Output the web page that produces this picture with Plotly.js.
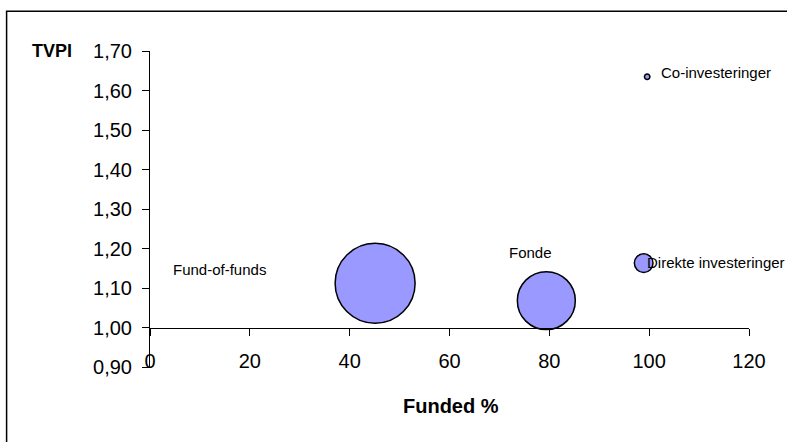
<!DOCTYPE html>
<html>
<head>
<meta charset="utf-8">
<script src="https://cdn.plot.ly/plotly-3.0.1.min.js"></script>
<style>
html,body{margin:0;padding:0;background:#fff;}
#chart{width:787px;height:442px;}
</style>
</head>
<body>
<div id="chart"></div>
<script>
// Data
const categories = ['Fund-of-funds', 'Fonde', 'Direkte investeringer', 'Co-investeringer'];
const fundedPct = [45.1, 79.4, 98.9, 99.6];
const tvpi = [1.112, 1.068, 1.163, 1.635];
const bubbleSize = [6400, 3360, 350, 30];
const xTickVals = [0, 20, 40, 60, 80, 100, 120];
const yTickVals = [0.9, 1.0, 1.1, 1.2, 1.3, 1.4, 1.5, 1.6, 1.7];

const FONT = 'Arial, "Liberation Sans", sans-serif';

const trace = {
  type: 'scatter',
  mode: 'markers',
  x: fundedPct,
  y: tvpi,
  text: categories,
  marker: {
    size: bubbleSize,
    sizemode: 'area',
    sizeref: 2,
    color: '#9999FF',
    opacity: 1,
    line: {color: '#000000', width: 1.5}
  },
  hoverinfo: 'text',
  cliponaxis: false
};

// label placement (left edge, vertical middle) in data units
const labelPos = [
  {x: 4.3, y: 1.148},
  {x: 71.6, y: 1.191},
  {x: 99.2, y: 1.165},
  {x: 101.9, y: 1.646}
];

const annotations = categories.map((c, i) => ({
  text: c,
  x: labelPos[i].x,
  y: labelPos[i].y,
  xref: 'x',
  yref: 'y',
  xanchor: 'left',
  yanchor: 'middle',
  showarrow: false,
  font: {family: FONT, size: 15, color: '#000'}
}));

annotations.push({
  text: '<b>TVPI</b>',
  xref: 'paper', yref: 'paper',
  x: -0.201, y: 1.0,
  xanchor: 'left', yanchor: 'middle',
  showarrow: false,
  font: {family: FONT, size: 18, color: '#000'}
});
annotations.push({
  text: '<b>Funded %</b>',
  xref: 'paper', yref: 'paper',
  x: 0.503, y: -0.122,
  xanchor: 'center', yanchor: 'middle',
  showarrow: false,
  font: {family: FONT, size: 20, color: '#000'}
});

const layout = {
  width: 787,
  height: 442,
  margin: {l: 150, r: 38, t: 51, b: 75, pad: 0},
  paper_bgcolor: '#ffffff',
  plot_bgcolor: '#ffffff',
  showlegend: false,
  separators: ',.',
  font: {family: FONT, color: '#000'},
  xaxis: {
    range: [0, 120],
    tickvals: xTickVals,
    ticktext: xTickVals.map(String),
    anchor: 'free',
    position: 0.125,
    showline: true,
    linecolor: '#000',
    linewidth: 1,
    ticks: 'outside',
    ticklen: 7,
    tickcolor: '#000',
    tickwidth: 1,
    ticklabelstandoff: 8,
    tickfont: {family: FONT, size: 20, color: '#000'},
    showgrid: false,
    zeroline: false,
    fixedrange: true
  },
  yaxis: {
    range: [0.9, 1.7],
    tickvals: yTickVals,
    tickformat: '.2f',
    showline: true,
    linecolor: '#000',
    linewidth: 1,
    ticks: 'outside',
    ticklen: 7,
    tickcolor: '#000',
    tickwidth: 1,
    ticklabelstandoff: 6,
    tickfont: {family: FONT, size: 20, color: '#000'},
    showgrid: false,
    zeroline: false,
    fixedrange: true
  },
  annotations: annotations,
  shapes: [{
    type: 'rect',
    xref: 'paper', yref: 'paper',
    x0: -0.2394, x1: 1.2,
    y0: -0.5, y1: 1.1254,
    line: {color: '#000', width: 1.5},
    fillcolor: 'rgba(0,0,0,0)',
    layer: 'below'
  }]
};

Plotly.newPlot('chart', [trace], layout, {staticPlot: true, displayModeBar: false});
</script>
</body>
</html>
